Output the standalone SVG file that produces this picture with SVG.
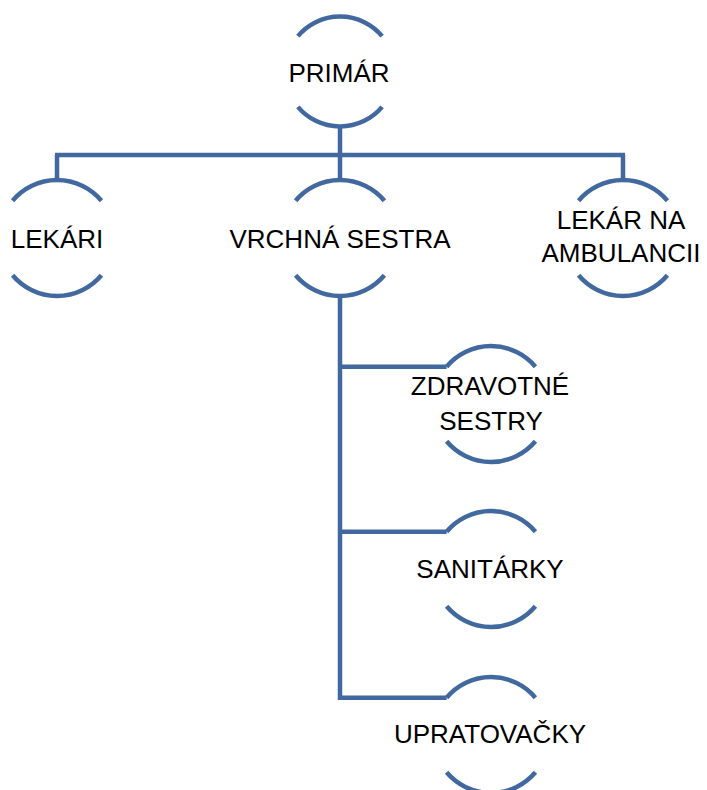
<svg xmlns="http://www.w3.org/2000/svg" width="707" height="790" viewBox="0 0 707 790">
<style>
.arc{fill:none;stroke:#41699F;stroke-width:4.5}
.con{fill:none;stroke:#41699F;stroke-width:4.5;stroke-linejoin:miter}
text{font-family:"Liberation Sans",Arial,sans-serif;font-size:26px;fill:#000;text-anchor:middle}
</style>
<rect width="707" height="790" fill="#fff"/>
<g id="connectors">
<path class="con" d="M340,126.5 V155 M55,155 H625 M57,155 V180 M340,155 V180 M623,155 V180"/>
<path class="con" d="M340,296 V697.7 H446.6 M340,366.7 H446.6 M340,531.7 H446.6"/>
</g>
<g id="primar">
<path class="arc" d="M297.9,36.1 A55,55 0 0 1 382.1,36.1 M297.9,106.9 A55,55 0 0 0 382.1,106.9"/>
<text x="339" y="82">PRIMÁR</text>
</g>
<g id="lekari">
<path class="arc" d="M12.6,200.7 A58,58 0 0 1 101.4,200.7 M12.6,275.3 A58,58 0 0 0 101.4,275.3"/>
<text x="57" y="248">LEKÁRI</text>
</g>
<g id="vrchna">
<path class="arc" d="M295.6,200.7 A58,58 0 0 1 384.4,200.7 M295.6,275.3 A58,58 0 0 0 384.4,275.3"/>
<text x="340" y="248">VRCHNÁ SESTRA</text>
</g>
<g id="lekar-amb">
<path class="arc" d="M578.6,200.7 A58,58 0 0 1 667.4,200.7 M578.6,275.3 A58,58 0 0 0 667.4,275.3"/>
<text x="621" y="229">LEKÁR NA</text>
<text x="621" y="262">AMBULANCII</text>
</g>
<g id="zdravotne">
<path class="arc" d="M446.6,366.7 A58,58 0 0 1 535.4,366.7 M446.6,441.3 A58,58 0 0 0 535.4,441.3"/>
<text x="490" y="395">ZDRAVOTNÉ</text>
<text x="491" y="430">SESTRY</text>
</g>
<g id="sanitarky">
<path class="arc" d="M446.6,531.7 A58,58 0 0 1 535.4,531.7 M446.6,606.3 A58,58 0 0 0 535.4,606.3"/>
<text x="490" y="578">SANITÁRKY</text>
</g>
<g id="upratovacky">
<path class="arc" d="M446.6,697.7 A58,58 0 0 1 535.4,697.7 M446.6,772.3 A58,58 0 0 0 535.4,772.3"/>
<text x="490" y="743">UPRATOVAČKY</text>
</g>
</svg>
